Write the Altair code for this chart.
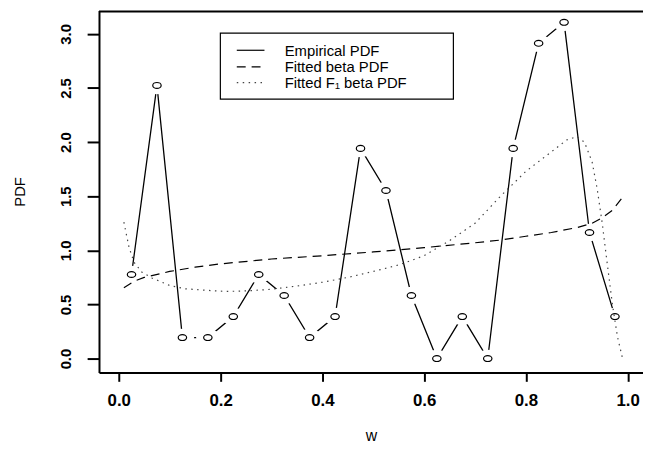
import altair as alt
import pandas as pd

# ---- data ----
bin_mid = [0.025, 0.075, 0.125, 0.175, 0.225, 0.275, 0.325, 0.375, 0.425, 0.475,
           0.525, 0.575, 0.625, 0.675, 0.725, 0.775, 0.825, 0.875, 0.925, 0.975]
emp_pdf = [0.777, 2.524, 0.194, 0.194, 0.388, 0.777, 0.583, 0.194, 0.388, 1.942,
           1.553, 0.583, 0.0, 0.388, 0.0, 1.942, 2.913, 3.107, 1.165, 0.388]

beta_x = [0.01, 0.03, 0.05, 0.1, 0.15, 0.2, 0.3, 0.4, 0.5, 0.6, 0.7, 0.75, 0.8,
          0.85, 0.9, 0.93, 0.95, 0.97, 0.99]
beta_y = [0.655, 0.715, 0.75, 0.805, 0.845, 0.875, 0.92, 0.95, 0.985, 1.025, 1.07,
          1.095, 1.13, 1.165, 1.21, 1.25, 1.30, 1.37, 1.49]

f1_x = [0.01, 0.02, 0.03, 0.045, 0.065, 0.1, 0.13, 0.175, 0.21, 0.25, 0.3, 0.35,
        0.4, 0.45, 0.5, 0.55, 0.6, 0.65, 0.7, 0.75, 0.8, 0.85, 0.88, 0.9, 0.915,
        0.93, 0.94, 0.95, 0.96, 0.97, 0.98, 0.99]
f1_y = [1.26, 1.03, 0.89, 0.80, 0.745, 0.675, 0.645, 0.63, 0.62, 0.625, 0.64, 0.67,
        0.705, 0.75, 0.805, 0.865, 0.95, 1.09, 1.25, 1.50, 1.73, 1.91, 2.02, 2.05, 2.0,
        1.82, 1.57, 1.25, 0.87, 0.5, 0.2, 0.0]

x_ticks = [0.0, 0.2, 0.4, 0.6, 0.8, 1.0]
y_ticks = [0.0, 0.5, 1.0, 1.5, 2.0, 2.5, 3.0]
legend_labels = ["Empirical PDF", "Fitted beta PDF", "Fitted F\u2081 beta PDF"]

# ---- layout ----
W, H = 550, 366
FONT = "Liberation Sans"

df_emp = pd.DataFrame({"w": bin_mid, "pdf": emp_pdf, "i": range(len(bin_mid))})
df_beta = pd.DataFrame({"w": beta_x, "pdf": beta_y, "i": range(len(beta_x))})
df_f1 = pd.DataFrame({"w": f1_x, "pdf": f1_y, "i": range(len(f1_x))})

xs = alt.Scale(domain=[-0.0389, 1.0301], nice=False, zero=False)
ys = alt.Scale(domain=[-0.128, 3.217], nice=False, zero=False)

x_axis = alt.Axis(values=x_ticks, format=".1f", grid=False, labelFont=FONT,
                  labelFontSize=17, labelFontWeight="bold", labelColor="black",
                  labelBaseline="alphabetic", labelPadding=24, labelFlush=False,
                  labelOverlap=False, tickSize=9, tickWidth=2, tickColor="black",
                  domainWidth=2, domainColor="black", title="w", titleFont=FONT,
                  titleFontSize=16, titleFontWeight="normal", titleColor="black",
                  titleBaseline="alphabetic", titleY=69)
y_axis = alt.Axis(values=y_ticks, format=".1f", grid=False, labelFont=FONT,
                  labelFontSize=15, labelFontWeight="bold", labelColor="black",
                  labelAngle=270, labelAlign="center", labelBaseline="alphabetic",
                  labelPadding=17, labelFlush=False, labelOverlap=False,
                  tickSize=12, tickWidth=2, tickColor="black", domainWidth=2,
                  domainColor="black", title="PDF", titleFont=FONT, titleFontSize=15,
                  titleFontWeight="normal", titleColor="black", titleAngle=270,
                  titleAlign="center", titleBaseline="alphabetic", titleX=-75)

X = alt.X("w:Q", scale=xs, axis=x_axis)
Y = alt.Y("pdf:Q", scale=ys, axis=y_axis)
Xn = alt.X("w:Q", scale=xs)
Yn = alt.Y("pdf:Q", scale=ys)

circle_path = "M-1,0A1,0.7,0,1,1,1,0A1,0.7,0,1,1,-1,0Z"
halo_path = "M-1,0A1,0.75,0,1,1,1,0A1,0.75,0,1,1,-1,0Z"

emp_line = alt.Chart(df_emp).mark_line(color="black", strokeWidth=1.3).encode(
    x=X, y=Y, order="i:Q")
halo = alt.Chart(df_emp).mark_point(shape=halo_path, filled=True, color="white",
                                    strokeWidth=0, size=560, opacity=1).encode(x=Xn, y=Yn)
circles = alt.Chart(df_emp).mark_point(shape=circle_path, filled=False, color="black",
                                       strokeWidth=1.2, size=72, opacity=1).encode(x=Xn, y=Yn)
beta_line = alt.Chart(df_beta).mark_line(color="black", strokeWidth=1.2,
                                         strokeDash=[9, 6]).encode(x=Xn, y=Yn, order="i:Q")
f1_line = alt.Chart(df_f1).mark_line(color="#444444", strokeWidth=1.2,
                                     strokeDash=[1.5, 4.5]).encode(x=Xn, y=Yn, order="i:Q")

one = pd.DataFrame({"k": [0]})
top_border = alt.Chart(one).mark_rule(color="black", strokeWidth=2).encode(
    x=alt.value(0), x2=alt.value(W), y=alt.value(1))

# legend (drawn manually like R's legend box)
LX0, LX1, LY0, LY1 = 122.7, 358.3, 23, 89.7
leg_box = alt.Chart(one).mark_rect(fill="white", stroke="black", strokeWidth=1.2).encode(
    x=alt.value(LX0), x2=alt.value(LX1), y=alt.value(LY0), y2=alt.value(LY1))
row_y = [40.3, 57.0, 73.0]
dashes = [None, [9, 6], [1.5, 4.5]]
colors = ["black", "black", "#444444"]
leg_layers = [leg_box]
for k in range(3):
    kw = dict(color=colors[k], strokeWidth=1.2)
    if dashes[k] is not None:
        kw["strokeDash"] = dashes[k]
    leg_layers.append(alt.Chart(one).mark_rule(**kw).encode(
        x=alt.value(139.3), x2=alt.value(167.3), y=alt.value(row_y[k])))
    leg_layers.append(alt.Chart(one).mark_text(
        text=legend_labels[k], font=FONT, fontSize=15, color="black", align="left",
        baseline="alphabetic").encode(x=alt.value(187.7), y=alt.value(row_y[k] + 5.5)))

chart = alt.layer(emp_line, halo, circles, beta_line, f1_line, top_border,
                  *leg_layers).properties(
    width=W, height=H,
    autosize=alt.AutoSizeParams(type="none"),
    padding={"left": 92, "top": 0, "right": 0, "bottom": 76},
).configure_view(strokeWidth=0)

chart.save("out.html", embed_options={"renderer": "svg", "actions": False})
